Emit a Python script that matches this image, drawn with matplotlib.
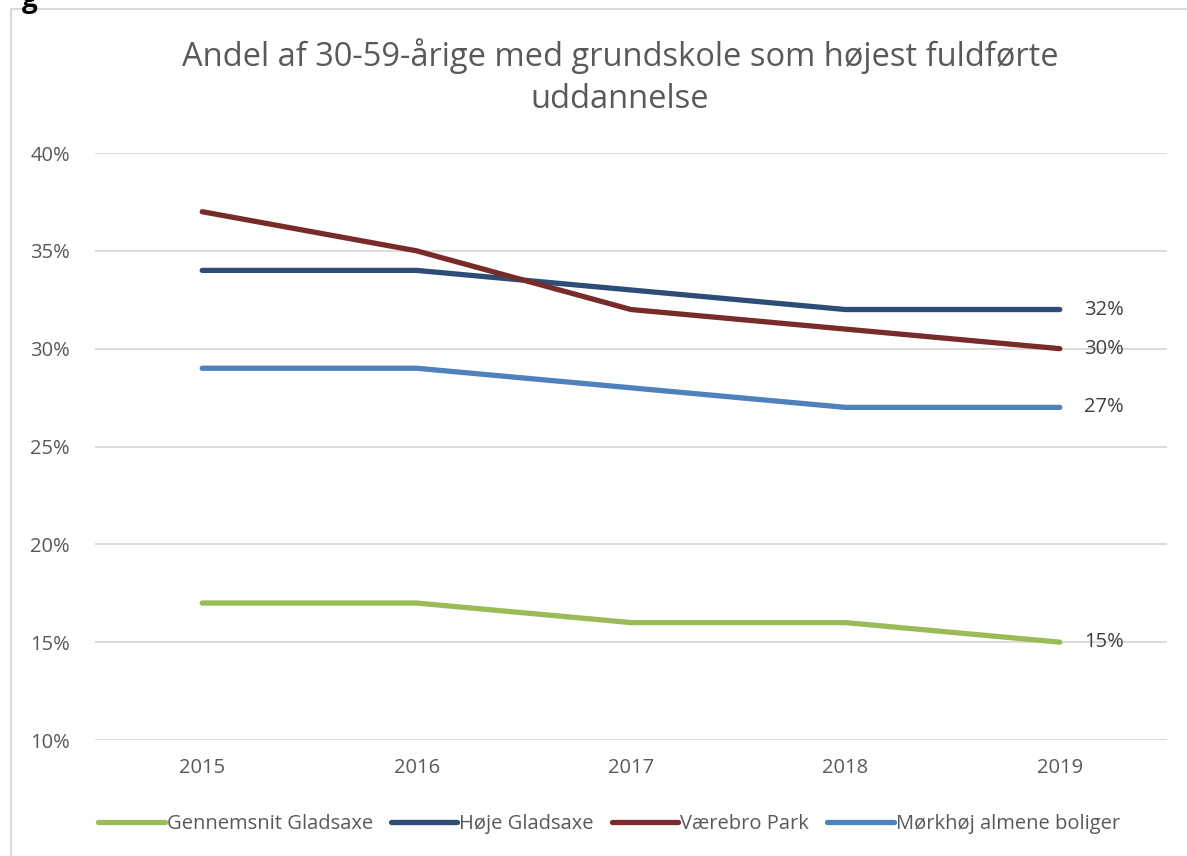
import matplotlib
matplotlib.use("Agg")
import matplotlib.pyplot as plt
from matplotlib.patches import Rectangle

years = ['2015', '2016', '2017', '2018', '2019']
gennemsnit = [17, 17, 16, 16, 15]
hoeje = [34, 34, 33, 32, 32]
vaerebro = [37, 35, 32, 31, 30]
moerkhoej = [29, 29, 28, 27, 27]

names = ['Gennemsnit Gladsaxe', 'Høje Gladsaxe', 'Værebro Park', 'Mørkhøj almene boliger']
colors = ['#9BBB59', '#2C4D75', '#772C2A', '#4F81BD']
series = [gennemsnit, hoeje, vaerebro, moerkhoej]

plt.rcParams['font.family'] = ['Open Sans', 'DejaVu Sans']
grey = '#595959'

W, H = 1187, 856
fig = plt.figure(figsize=(W / 100, H / 100), dpi=100)
ax = fig.add_axes([95 / W, 1 - 740 / H, (1167 - 95) / W, (740 - 153) / H])

# chart border
fig.patches.append(Rectangle((11 / W, -0.1), 1.2, 1 - 9 / H + 0.1, transform=fig.transFigure,
                             fill=False, edgecolor='#D9D9D9', linewidth=1.5))
fig.text(22 / W, 1.0, 'g', fontsize=20, fontweight='bold', ha='left', va='center', color='black')

x = list(range(len(years)))
for vals, name, c in zip(series, names, colors):
    ax.plot(x, vals, color=c, linewidth=3.8, label=name, solid_capstyle='round')
    ax.text(x[-1] + 0.115, vals[-1], '%d%%' % vals[-1], va='center', ha='left',
            fontsize=14.5, color='#404040')

ax.set_xlim(-0.5, 4.5)
ax.set_ylim(10, 40)
ax.set_yticks([10, 15, 20, 25, 30, 35, 40])
ax.set_yticklabels(['%d%%' % v for v in [10, 15, 20, 25, 30, 35, 40]])
ax.set_xticks(x)
ax.set_xticklabels(years)
ax.grid(axis='y', color='#D9D9D9', linewidth=1.3)
ax.set_axisbelow(True)
for s in ax.spines.values():
    s.set_visible(False)
ax.tick_params(length=0, colors=grey, labelsize=14.5)
ax.tick_params(axis='y', pad=18)
ax.tick_params(axis='x', pad=13)

fig.text(620 / W, 1 - 77 / H, 'Andel af 30-59-årige med grundskole som højest fuldførte\nuddannelse',
         ha='center', va='center', fontsize=23.5, color=grey, linespacing=1.33)

fig.legend(loc='center', bbox_to_anchor=(609 / W, 1 - 824 / H), ncol=4, frameon=False,
           fontsize=14.5, labelcolor=grey, handlelength=3.3, handletextpad=0.1, columnspacing=0.9)

fig.savefig('out.png', dpi=100)
